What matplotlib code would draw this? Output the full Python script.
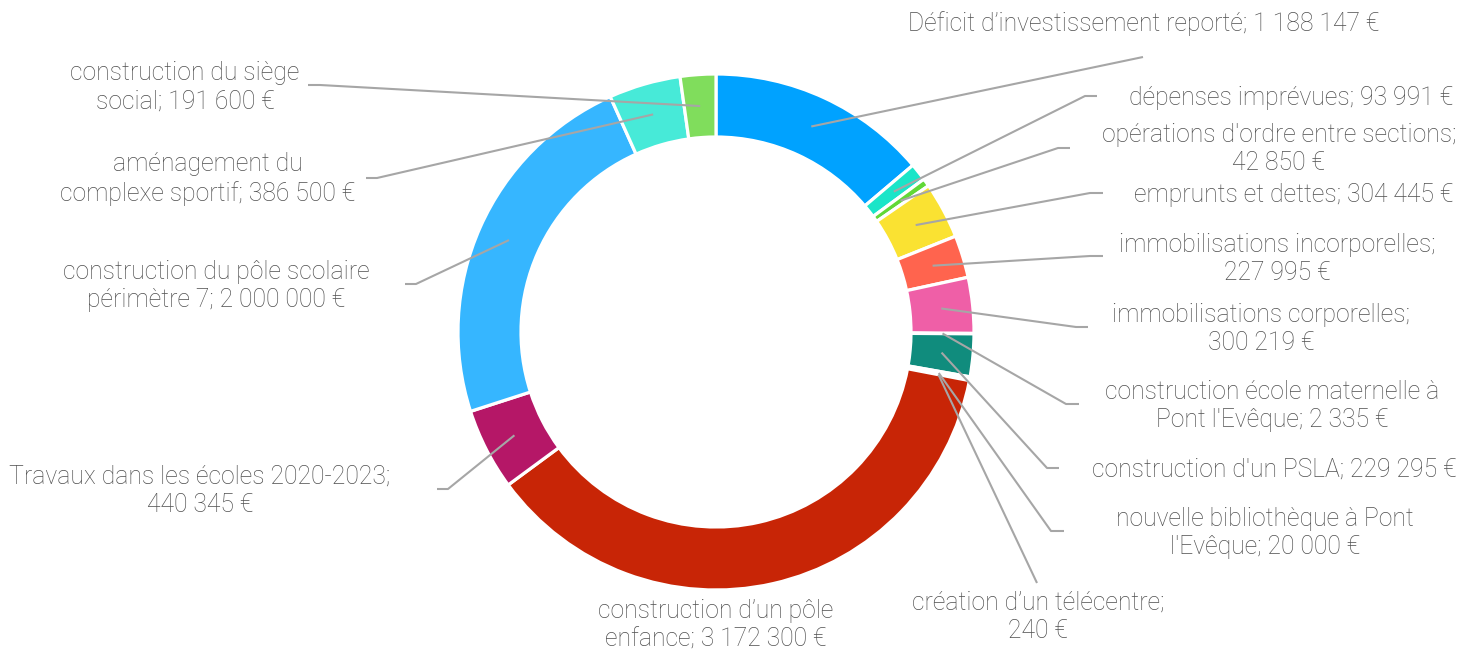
import numpy as np
import matplotlib
matplotlib.use("Agg")
import matplotlib.pyplot as plt

# ---- data ----
labels = [
    "Déficit d’investissement reporté; 1 188 147 €",
    "dépenses imprévues; 93 991 €",
    "opérations d'ordre entre sections;\n42 850 €",
    "emprunts et dettes; 304 445 €",
    "immobilisations incorporelles;\n227 995 €",
    "immobilisations corporelles;\n300 219 €",
    "construction école maternelle à\nPont l'Evêque; 2 335 €",
    "construction d'un PSLA; 229 295 €",
    "nouvelle bibliothèque à Pont\nl'Evêque; 20 000 €",
    "création d’un télécentre;\n240 €",
    "construction d’un pôle\nenfance; 3 172 300 €",
    "Travaux dans les écoles 2020-2023;\n440 345 €",
    "construction du pôle scolaire\npérimètre 7; 2 000 000 €",
    "aménagement du\ncomplexe sportif; 386 500 €",
    "construction du siège\nsocial; 191 600 €",
]
values = [1188147, 93991, 42850, 304445, 227995, 300219, 2335, 229295,
          20000, 240, 3172300, 440345, 2000000, 386500, 191600]
colors = ["#00A2FF", "#1AE5C8", "#61D836", "#FAE232", "#FF644E", "#EF5FA7",
          "#FF9300", "#108C7D", "#FFFFFF", "#FFFFFF", "#C82506", "#B51767",
          "#36B6FF", "#47EAD8", "#80DD5C"]

# ---- layout (pixel coordinates, y measured from top) ----
W, H = 1474, 651
CX, CY = 716, 332
R_OUT, RING = 258, 63
# label block centres
label_pos = [(1144, 24), (1291, 98), (1279, 149), (1294, 195), (1277, 259),
             (1261, 329), (1272, 406), (1274, 470), (1265, 533), (1038, 617),
             (716, 625), (200, 491), (216, 286), (208, 179), (185, 87)]
# leader line: (elbow point, tick end) ; None = no leader
leader_ends = [((1143, 57), None), ((1085, 96), (1097, 96)),
               ((1058, 148), (1070, 148)), ((1090, 193), (1103, 193)),
               ((1090, 256), (1103, 256)), ((1076, 327), (1088, 327)),
               ((1066, 404), (1079, 404)), ((1047, 468), (1059, 468)),
               ((1051, 531), (1064, 531)), ((1037, 583), None),
               None, ((448, 489), (437, 489)), ((416, 284), (405, 284)),
               ((377, 178), (366, 178)), ((320, 85), (308, 85))]

fig = plt.figure(figsize=(W / 100, H / 100), dpi=100)
ax = fig.add_axes([0, 0, 1, 1])

wedges, _ = ax.pie(values, colors=colors, startangle=90, counterclock=False,
                   radius=R_OUT, center=(CX, H - CY),
                   wedgeprops=dict(width=RING, edgecolor="white", linewidth=2.3))
ax.set_xlim(0, W)
ax.set_ylim(0, H)
ax.set_aspect("auto")
ax.axis("off")

r_mid = R_OUT - RING / 2
line_kw = dict(color="#A6A6A6", lw=1.5, solid_capstyle="butt", zorder=3)
for w, lab, pos, le in zip(wedges, labels, label_pos, leader_ends):
    if le is not None:
        ang = np.deg2rad((w.theta1 + w.theta2) / 2)
        sx = CX + r_mid * np.cos(ang)
        sy = (H - CY) + r_mid * np.sin(ang)
        elbow, tick = le
        xs = [sx, elbow[0]]
        ys = [sy, H - elbow[1]]
        if tick is not None:
            xs.append(tick[0])
            ys.append(H - tick[1])
        ax.plot(xs, ys, **line_kw)
    ax.text(pos[0], H - pos[1], lab, ha="center", va="center",
            fontsize=17.8, fontfamily="Roboto", fontweight="light",
            color="#4F4F4F", linespacing=1.24, multialignment="center")

fig.savefig("out.png", dpi=100)
